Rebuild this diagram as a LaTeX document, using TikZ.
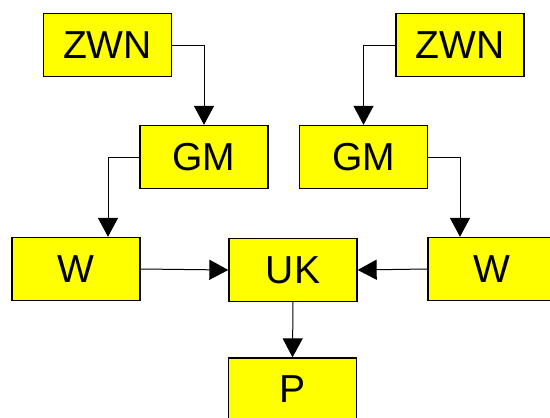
\documentclass[tikz,border=0pt]{standalone}
\usepackage{fontspec}
\setmainfont{Liberation Sans}
\usetikzlibrary{arrows.meta}
\definecolor{boxyellow}{RGB}{255,255,0}
\begin{document}
\begin{tikzpicture}[x=1pt,y=-1pt,
  box/.style={draw=black,line width=1.3pt,fill=boxyellow,minimum width=128pt,minimum height=63pt,inner sep=0pt,font=\fontsize{39}{45}\selectfont},
  conn/.style={line width=1pt,-{Triangle[length=19pt,width=20pt]}}]
\useasboundingbox (0,0) rectangle (550,418);
\node[box] (zl) at (107.5,45) {ZWN};
\node[box] (zr) at (460,45) {ZWN};
\node[box] (gl) at (204,157) {GM};
\node[box] (gr) at (363.5,157) {GM};
\node[box] (wl) at (76,269) {W};
\node[box] (uk) at (293,270) {UK};
\node[box] (wr) at (492,269) {W};
\node[box] (p) at (292.5,389.5) {P};
\draw[conn] (zl.east) -| (gl.north);
\draw[conn] (zr.west) -| (gr.north);
\draw[conn] (gl.west) -| ([xshift=32pt]wl.north);
\draw[conn] (gr.east) -| ([xshift=-32pt]wr.north);
\draw[conn] (wl.east) -- (uk.west);
\draw[conn] (wr.west) -- (uk.east);
\draw[conn] (uk.south) -- (p.north);
\end{tikzpicture}
\end{document}
